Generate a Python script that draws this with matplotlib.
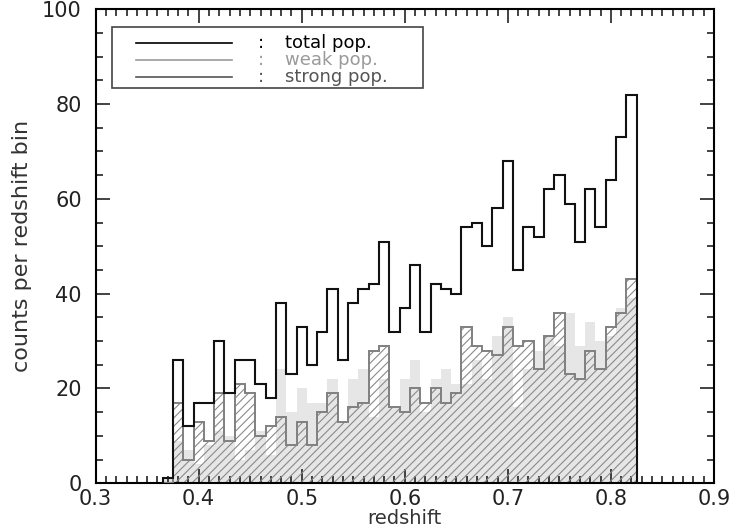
import numpy as np
import matplotlib
matplotlib.use("Agg")
from matplotlib import pyplot as plt
from matplotlib.patches import Rectangle
from matplotlib.ticker import MultipleLocator

# redshift bin edges (bins of 0.01)
edges = np.round(np.arange(0.365, 0.8251, 0.01), 3)

total = [1, 26, 12, 17, 17, 30, 19, 26, 26, 21, 18, 38, 23, 33, 25, 32, 41, 26, 38, 41, 42,
         51, 32, 37, 46, 32, 42, 41, 40, 54, 55, 50, 58, 68, 45, 54, 52, 62, 65, 59, 51,
         62, 54, 64, 73, 82]
strong = [0, 17, 5, 13, 9, 19, 9, 21, 19, 10, 12, 14, 8, 13, 8, 15, 19, 13, 16, 17, 28,
          29, 16, 15, 20, 17, 20, 17, 19, 33, 29, 28, 27, 33, 29, 30, 24, 31, 36, 23, 22,
          28, 24, 33, 36, 43]
weak = [1, 9, 7, 4, 8, 11, 10, 5, 7, 11, 6, 24, 15, 20, 17, 17, 22, 13, 22, 24, 14,
        22, 16, 22, 26, 15, 22, 24, 21, 21, 26, 22, 31, 35, 16, 24, 28, 31, 29, 36, 29,
        34, 30, 31, 37, 39]

labels = ["total pop.", "weak pop.", "strong pop."]
lcolors = ["black", "#9a9a9a", "#555555"]

plt.rcParams["hatch.linewidth"] = 0.8

fig = plt.figure(figsize=(7.3, 5.31), dpi=100)
ax = fig.add_axes([0.131, 0.090, 0.847, 0.8925])

ax.stairs(weak, edges, fill=True, facecolor="#e6e6e6", edgecolor="none", zorder=1)
ax.stairs(strong, edges, fill=True, facecolor="none", edgecolor="#8a8a8a",
          linewidth=0, hatch="////", zorder=2)
ax.stairs(strong, edges, baseline=0, fill=False, color="#808080", linewidth=1.4, zorder=3)
ax.stairs(total, edges, baseline=0, fill=False, color="#111111", linewidth=1.5, zorder=4)

ax.set_xlim(0.3, 0.9)
ax.set_ylim(0, 100)
ax.xaxis.set_major_locator(MultipleLocator(0.1))
ax.xaxis.set_minor_locator(MultipleLocator(0.01))
ax.yaxis.set_major_locator(MultipleLocator(20))
ax.yaxis.set_minor_locator(MultipleLocator(5))
ax.tick_params(which="both", direction="in", top=True, right=True, width=1.2,
               labelsize=15, colors="#222222")
ax.tick_params(which="major", length=10)
ax.tick_params(which="minor", length=5)
ax.tick_params(axis="x", pad=4)
ax.tick_params(axis="y", pad=10)
for s in ax.spines.values():
    s.set_linewidth(1.5)
ax.set_xlabel("redshift", fontsize=14, color="#333333", labelpad=0)
ax.set_ylabel("counts per redshift bin", fontsize=16, color="#333333", labelpad=7)

# legend box drawn by hand
ax.add_patch(Rectangle((0.027, 0.834), 0.502, 0.129, transform=ax.transAxes,
                       facecolor="white", edgecolor="#444444", linewidth=1.2, zorder=5))
ys = [0.9295, 0.8935, 0.8565]
for y, lab, c in zip(ys, labels, lcolors):
    ax.plot([0.066, 0.221], [y, y], transform=ax.transAxes, color=c, linewidth=1.2, zorder=6)
    ax.text(0.268, y, ":", transform=ax.transAxes, color=c, fontsize=13,
            ha="center", va="center", zorder=6)
    ax.text(0.306, y, lab, transform=ax.transAxes, color=c, fontsize=13,
            ha="left", va="center", zorder=6)

fig.savefig("out.png", dpi=100)
